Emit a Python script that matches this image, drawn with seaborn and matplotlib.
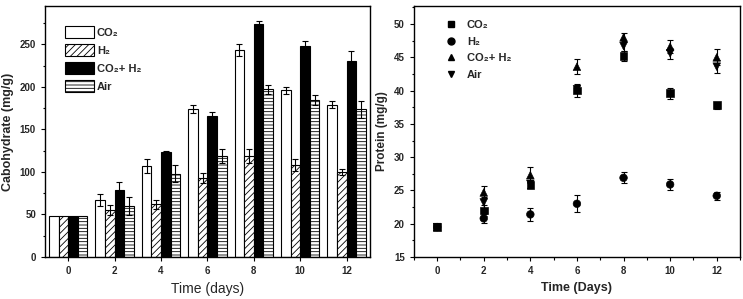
import numpy as np
import pandas as pd
import matplotlib
matplotlib.use("Agg")
import matplotlib.pyplot as plt
import seaborn as sns
from matplotlib.patches import Patch
from matplotlib.lines import Line2D
from matplotlib.ticker import MultipleLocator

days = [0, 2, 4, 6, 8, 10, 12]
series = ["CO₂", "H₂", "CO₂+ H₂", "Air"]

# carbohydrate (mg/g), bar chart
carb_co2 = [48, 67, 107, 174, 243, 196, 179]
carb_h2 = [48, 55, 62, 93, 119, 108, 100]
carb_mix = [48, 79, 123, 166, 274, 248, 231]
carb_air = [48, 60, 98, 119, 197, 185, 174]
carb_co2_err = [0, 7, 8, 5, 7, 4, 4]
carb_h2_err = [0, 6, 5, 6, 8, 7, 4]
carb_mix_err = [0, 9, 2, 4, 3, 6, 11]
carb_air_err = [0, 11, 10, 8, 5, 6, 10]

# protein (mg/g), scatter
prot_co2 = [19.5, 22.0, 25.8, 40.0, 45.2, 39.6, 37.8]
prot_h2 = [19.5, 20.8, 21.4, 23.0, 26.9, 25.9, 24.2]
prot_mix = [19.5, 24.7, 27.3, 43.6, 48.0, 46.6, 45.0]
prot_air = [19.5, 23.2, 26.0, 40.2, 46.7, 45.6, 43.6]
prot_co2_err = [0.3, 0.8, 0.5, 1.0, 0.8, 0.8, 0.5]
prot_h2_err = [0.3, 0.7, 1.0, 1.3, 0.8, 0.8, 0.6]
prot_mix_err = [0.3, 0.9, 1.2, 1.1, 0.7, 1.0, 1.2]
prot_air_err = [0.3, 0.8, 0.6, 0.6, 0.8, 0.8, 1.0]

carb = pd.DataFrame({
    "day": days * 4,
    "series": np.repeat(series, len(days)),
    "value": carb_co2 + carb_h2 + carb_mix + carb_air,
    "err": carb_co2_err + carb_h2_err + carb_mix_err + carb_air_err,
})
prot = pd.DataFrame({
    "day": days * 4,
    "series": np.repeat(series, len(days)),
    "value": prot_co2 + prot_h2 + prot_mix + prot_air,
    "err": prot_co2_err + prot_h2_err + prot_mix_err + prot_air_err,
})

sns.set_style("ticks")
plt.rcParams["font.family"] = ["Liberation Sans", "DejaVu Sans"]
plt.rcParams["hatch.linewidth"] = 0.6
plt.rcParams["xtick.direction"] = "out"
plt.rcParams["ytick.direction"] = "out"

fig = plt.figure(figsize=(7.43, 2.99), dpi=100)
ax1 = fig.add_axes([0.0606, 0.1405, 0.437, 0.839])
ax2 = fig.add_axes([0.557, 0.1405, 0.439, 0.839])

# ---- left: carbohydrate bars ----
fills = ["white", "white", "black", "white"]
hatches = ["", "/////", "", "-----"]
sns.barplot(data=carb, x="day", y="value", hue="series", hue_order=series,
            palette=fills, width=0.83, gap=0, edgecolor="black", linewidth=0.8,
            errorbar=None, legend=False, ax=ax1)
for cont, h, s in zip(ax1.containers, hatches, series):
    errs = carb.loc[carb.series == s, "err"].values
    xs, ys = [], []
    for bar, e in zip(cont, errs):
        bar.set_hatch(h)
        xs.append(bar.get_x() + bar.get_width() / 2)
        ys.append(bar.get_height())
    errs = np.where(errs > 0, errs, np.nan)
    ax1.errorbar(xs, ys, yerr=errs, fmt="none", ecolor="black", elinewidth=0.8,
                 capsize=2.5, capthick=0.8, zorder=1)

ax1.set_xlim(-0.5, 6.5)
ax1.set_ylim(0, 295)
ax1.yaxis.set_major_locator(MultipleLocator(50))
ax1.yaxis.set_minor_locator(MultipleLocator(25))
ax1.set_xlabel("Time (days)", fontsize=10)
ax1.set_ylabel("Cabohydrate (mg/g)", fontsize=9, fontweight="bold")
ax1.tick_params(labelsize=7)
for t in ax1.get_xticklabels() + ax1.get_yticklabels():
    t.set_fontweight("bold")
handles1 = [Patch(facecolor=f, edgecolor="black", hatch=h, linewidth=0.8)
            for f, h in zip(fills, hatches)]
ax1.legend(handles1, series, loc="upper left", frameon=False,
           bbox_to_anchor=(0.03, 0.96), handlelength=2.6, handleheight=1.2,
           labelspacing=0.6, handletextpad=0.3,
           prop={"weight": "bold", "size": 8})

# ---- right: protein scatter ----
markers = {"CO₂": "s", "H₂": "o", "CO₂+ H₂": "^", "Air": "v"}
for s in series:
    sub = prot[prot.series == s]
    ax2.errorbar(sub["day"], sub["value"], yerr=sub["err"], fmt="none",
                 ecolor="black", elinewidth=0.8, capsize=2.5, capthick=0.8)
sns.scatterplot(data=prot, x="day", y="value", style="series",
                style_order=series, markers=markers, color="black", s=30,
                edgecolor="black", legend=False, ax=ax2, zorder=3)
ax2.set_xlim(-1, 13)
ax2.set_ylim(15, 52.7)
ax2.xaxis.set_major_locator(MultipleLocator(2))
ax2.xaxis.set_minor_locator(MultipleLocator(1))
ax2.yaxis.set_major_locator(MultipleLocator(5))
ax2.yaxis.set_minor_locator(MultipleLocator(2.5))
ax2.set_xlabel("Time (Days)", fontsize=9, fontweight="bold")
ax2.set_ylabel("Protein (mg/g)", fontsize=8.5, fontweight="bold")
ax2.tick_params(labelsize=7)
for t in ax2.get_xticklabels() + ax2.get_yticklabels():
    t.set_fontweight("bold")
handles2 = [Line2D([], [], linestyle="none", marker=markers[s], color="black",
                   markersize=5) for s in series]
ax2.legend(handles2, series, loc="upper left", frameon=False,
           bbox_to_anchor=(0.05, 0.985), handletextpad=0.4, labelspacing=0.6,
           prop={"weight": "bold", "size": 8})

for ax in (ax1, ax2):
    for sp in ax.spines.values():
        sp.set_visible(True)
        sp.set_linewidth(1.0)
        sp.set_color("black")
    ax.tick_params(which="both", color="black", width=0.8)
    ax.tick_params(which="major", length=3)
    ax.tick_params(which="minor", length=1.8)

fig.savefig("out.png", dpi=100)
